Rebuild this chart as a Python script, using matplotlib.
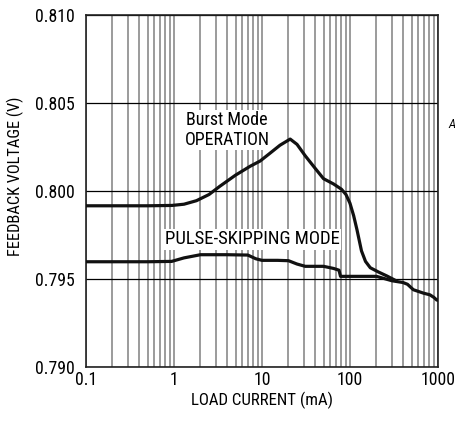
import matplotlib
matplotlib.use("Agg")
import matplotlib.pyplot as plt
from matplotlib import font_manager
from matplotlib.ticker import LogLocator, FixedLocator, FixedFormatter, NullFormatter

# narrow sans if available, Arial-metric otherwise
installed = {f.name for f in font_manager.fontManager.ttflist}
preferred = ['Liberation Sans Narrow', 'Roboto Condensed', 'Open Sans Condensed',
             'Noto Sans Condensed', 'Liberation Sans']
main_font = next((f for f in preferred if f in installed), 'DejaVu Sans')
plt.rcParams['font.family'] = [main_font, 'DejaVu Sans']

# Burst Mode operation curve (load current mA, feedback voltage V)
burst_i = [0.1, 0.5, 0.95, 1.3, 1.8, 2.5, 3.3, 5.0, 7.3, 9.5, 12, 16, 20.9, 25, 31,
           40, 50, 65, 80, 90, 100, 110, 120, 135, 150, 170, 210, 263, 340]
burst_v = [0.79916, 0.79916, 0.79918, 0.79925, 0.79945, 0.7998, 0.80026, 0.8009,
           0.8014, 0.8017, 0.8021, 0.8026, 0.80295, 0.80265, 0.8020, 0.8013,
           0.8007, 0.8004, 0.8001, 0.7998, 0.7993, 0.7986, 0.7978, 0.7966,
           0.7960, 0.79564, 0.7954, 0.79517, 0.79488]

# Pulse-skipping mode curve
pulse_i = [0.1, 0.5, 0.94, 1.3, 2.0, 4.0, 6.9, 8.5, 10, 15, 20, 25, 31, 40, 50,
           65, 75, 78, 120, 200, 300, 400, 450, 525, 680, 810, 900, 970, 1000]
pulse_v = [0.79598, 0.79598, 0.79600, 0.79620, 0.79638, 0.79638, 0.79636,
           0.79615, 0.79606, 0.79606, 0.79604, 0.79585, 0.79572, 0.79572,
           0.79572, 0.79560, 0.79550, 0.79515, 0.79515, 0.79515, 0.7949,
           0.7948, 0.7947, 0.79439, 0.7942, 0.7941, 0.79395, 0.7938, 0.7938]

y_ticks = [0.790, 0.795, 0.800, 0.805, 0.810]
y_labels = ['0.790', '0.795', '0.800', '0.805', '0.810']
x_ticks = [0.1, 1, 10, 100, 1000]
x_labels = ['0.1', '1', '10', '100', '1000']

fig = plt.figure(figsize=(4.56, 4.21), dpi=100)
ax = fig.add_axes([86 / 456, 54 / 421, 352 / 456, 352 / 421])

ax.set_xscale('log')
ax.set_xlim(0.1, 1000)
ax.set_ylim(0.790, 0.810)

# vertical grid at every minor/major decade step, horizontal at major only
ax.xaxis.set_major_locator(FixedLocator(x_ticks))
ax.xaxis.set_major_formatter(FixedFormatter(x_labels))
ax.xaxis.set_minor_locator(LogLocator(base=10, subs=range(2, 10)))
ax.xaxis.set_minor_formatter(NullFormatter())
ax.yaxis.set_major_locator(FixedLocator(y_ticks))
ax.yaxis.set_major_formatter(FixedFormatter(y_labels))
ax.grid(True, which='both', axis='x', color='#808080', linewidth=1.1)
ax.grid(True, which='major', axis='y', color='black', linewidth=0.9)
ax.tick_params(which='both', length=0, labelsize=12.8)
ax.tick_params(axis='x', pad=3)
ax.tick_params(axis='y', pad=8)

ax.plot(burst_i, burst_v, color='#111111', linewidth=2.3, solid_capstyle='butt', zorder=3)
ax.plot(pulse_i, pulse_v, color='#111111', linewidth=2.3, solid_capstyle='butt', zorder=3)

for sp in ax.spines.values():
    sp.set_linewidth(1.2)
    sp.set_color('#222222')

box = dict(facecolor='white', edgecolor='none', pad=1.0)
ax.text(4.0, 0.80403, 'Burst Mode', ha='center', va='center', fontsize=13, bbox=box, zorder=4)
ax.text(4.0, 0.80290, 'OPERATION', ha='center', va='center', fontsize=13, bbox=box, zorder=4)
ax.text(7.8, 0.79726, 'PULSE-SKIPPING MODE', ha='center', va='center', fontsize=13.5, bbox=box, zorder=4)

ax.set_xlabel('LOAD CURRENT (mA)', fontsize=12.2, labelpad=2)
ax.set_ylabel('FEEDBACK VOLTAGE (V)', fontsize=11.8)
ax.yaxis.set_label_coords(-0.175, 0.543)

fig.text(452 / 456, 1 - 125 / 421, 'A', fontsize=9, style='italic', ha='center', va='center')

fig.savefig('out.png', dpi=100)
